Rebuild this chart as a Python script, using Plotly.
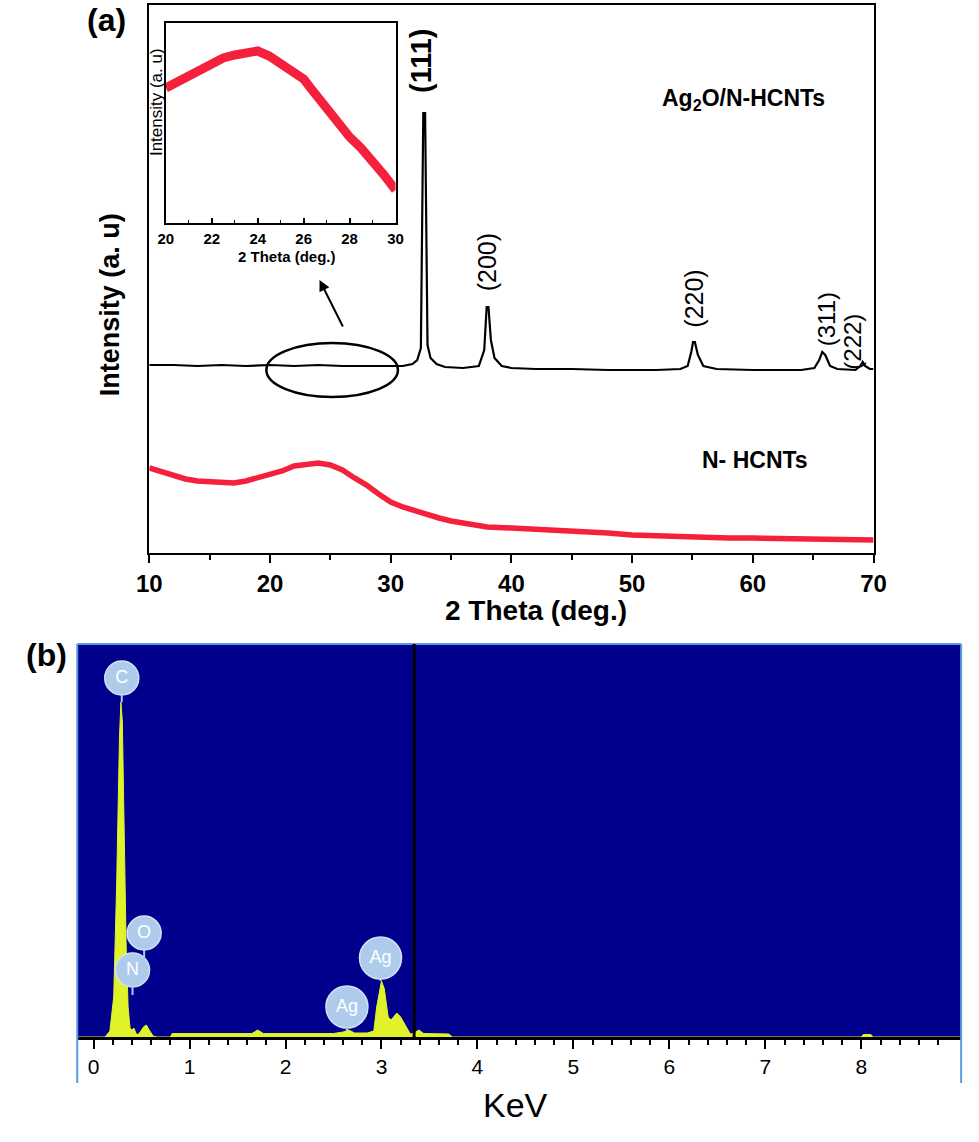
"""XRD of Ag2O/N-HCNTs vs N-HCNTs (a) and EDS spectrum (b)."""

import plotly.graph_objects as go

W, H = 979, 1142
FONT = "Arial, Liberation Sans, sans-serif"

# ---------------------------------------------------------------- (a) XRD data
ag_2theta = [10, 12, 14, 16, 18, 20, 22, 24, 26, 28,
             30, 31, 31.8, 32.2, 32.5, 32.62, 32.7, 32.85, 32.95, 33.05,
             33.3, 33.8, 34.5, 36, 37.3, 37.75, 37.95, 38.1, 38.3, 38.6,
             39.2, 40, 42, 45, 48, 50, 52, 54, 54.6, 54.9,
             55.05, 55.2, 55.45, 55.9, 57, 60, 62, 64, 65.1, 65.5,
             65.75, 66.0, 66.4, 67, 68.5, 68.9, 69.1, 69.3, 69.7, 70]
ag_intensity = [188, 188, 187, 188, 187, 188, 187, 188, 187, 187,
                187, 187, 189, 193, 205, 320, 440, 440, 313, 208,
                195, 189, 186, 185, 187, 203, 246, 246, 213, 195,
                187, 185, 184, 184, 183, 183, 183, 184, 187, 201,
                211, 211, 198, 187, 184, 183, 183, 183, 185, 193,
                201, 198, 187, 184, 183, 187, 191, 187, 184, 184]

n_2theta = [10, 11, 12, 13, 14, 15, 16, 17, 18, 19, 20, 21, 22, 23, 24, 25,
            26, 27, 28, 29, 30, 31, 32, 33, 34, 35, 36, 37, 38, 40, 42, 44,
            46, 48, 50, 52, 55, 58, 60, 63, 66, 70]
n_intensity = [85, 81, 77, 74, 72, 71, 70, 70, 72, 75, 78, 82, 87, 89, 90, 88,
               83, 75, 68, 59, 51, 46, 42, 39, 35, 32, 30, 28, 26, 25, 24, 23,
               22, 20, 18, 17, 16, 15, 15, 14, 13, 13]

inset_2theta = [20, 20.5, 21, 21.5, 22, 22.5, 23, 23.5, 24, 24.5, 25,
                25.5, 26, 26.3, 26.6, 27, 27.5, 28, 28.5, 29, 29.5, 30]
inset_intensity = [135, 141, 148, 153, 160, 165, 168, 171, 172, 167, 159,
                   153, 144, 135, 126, 116, 101, 86, 75, 63, 48, 33]

hkl_labels = ["(111)", "(200)", "(220)", "(311)", "(222)"]
hkl_2theta = [32.8, 38.0, 55.1, 65.75, 69.1]
hkl_peak = [440, 246, 211, 201, 191]

# ---------------------------------------------------------------- (b) EDS data
eds_kev = [-0.17, 0.12, 0.17, 0.21, 0.24, 0.27, 0.285, 0.30, 0.32, 0.34,
           0.36, 0.38, 0.40, 0.42, 0.45, 0.48, 0.52, 0.55, 0.58, 0.62,
           0.66, 0.80, 0.82, 1.0, 1.65, 1.71, 1.77, 2.5, 2.6, 2.66,
           2.72, 2.85, 2.92, 2.95, 3.0, 3.03, 3.07, 3.1, 3.16, 3.2,
           3.26, 3.3, 3.34, 3.39, 3.44, 3.7, 3.74, 8.0, 8.02, 8.1,
           8.12, 9.04]
eds_counts = [0, 0, 60, 400, 1500, 3000, 3350, 3150, 2000, 900,
              300, 90, 70, 90, 20, 40, 100, 120, 70, 10,
              0, 0, 35, 35, 35, 70, 35, 35, 50, 70,
              40, 40, 60, 300, 560, 480, 200, 170, 240, 200,
              90, 30, 40, 70, 35, 30, 0, 0, 25, 25,
              0, 0]

element_labels = ["C", "N", "O", "Ag", "Ag"]
element_kev = [0.294, 0.406, 0.527, 2.64, 2.99]


def px(x):
    return x / W


def py(y):
    return 1 - y / H


fig = go.Figure()

# (a) main traces
fig.add_scatter(x=n_2theta, y=n_intensity, mode="lines",
                line=dict(color="#f5203c", width=5.5), xaxis="x", yaxis="y")
fig.add_scatter(x=ag_2theta, y=ag_intensity, mode="lines",
                line=dict(color="black", width=2.2), xaxis="x", yaxis="y")
# inset
fig.add_scatter(x=inset_2theta, y=inset_intensity, mode="lines",
                line=dict(color="#f5203c", width=9), xaxis="x2", yaxis="y2")
# (b) EDS spectrum
fig.add_scatter(x=eds_kev, y=eds_counts, mode="lines", fill="tozeroy",
                fillcolor="#e0f22a", line=dict(color="#e0f22a", width=1),
                xaxis="x3", yaxis="y3")

# element badges (positions in keV / counts)
badge_y = [3590, 670, 1040, 300, 790]
badge_size = [34, 34, 34, 42, 42]
fig.add_scatter(
    x=element_kev, y=badge_y, mode="markers+text", text=element_labels,
    textposition="middle center",
    textfont=dict(family=FONT, size=18, color="white"),
    marker=dict(size=badge_size, color="#aecbec", opacity=1,
                line=dict(color="#d0e2f5", width=1.5)),
    xaxis="x3", yaxis="y3",
)
stems = [(0.294, 3420, 3350), (0.406, 510, 420), (0.527, 870, 770),
         (2.64, 100, 60), (2.99, 580, 560)]
for sx, sy0, sy1 in stems:
    fig.add_shape(type="line", xref="x3", yref="y3", x0=sx, x1=sx, y0=sy0, y1=sy1,
                  line=dict(color="#aecbec", width=2))

# ---------------------------------------------------------------- axes
common = dict(showgrid=False, zeroline=False)
fig.update_layout(
    width=W, height=H, autosize=False,
    margin=dict(l=0, r=0, t=0, b=0),
    paper_bgcolor="white", plot_bgcolor="white",
    showlegend=False, hovermode=False,
    font=dict(family=FONT, color="black"),
    xaxis=dict(domain=[px(140), px(884)], range=[10, 70], anchor="y",
               showline=True, mirror=True, linecolor="black", linewidth=2,
               ticks="outside", ticklen=8, tickwidth=2, tickcolor="black",
               tickvals=[10, 20, 30, 40, 50, 60, 70],
               ticktext=[f"<b>{v}</b>" for v in [10, 20, 30, 40, 50, 60, 70]],
               tickfont=dict(size=24),
               minor=dict(dtick=5, ticks="outside", ticklen=5, tickwidth=2,
                          tickcolor="black"),
               **common),
    yaxis=dict(domain=[py(553), py(5)], range=[0, 548], anchor="x",
               showline=True, mirror=True, linecolor="black", linewidth=2,
               showticklabels=False, ticks="", **common),
    xaxis2=dict(domain=[px(157), px(393)], range=[20, 30], anchor="y2",
                showline=True, mirror=True, linecolor="black", linewidth=1.5,
                ticks="inside", ticklen=5, tickwidth=1.5, tickcolor="black",
                tickvals=[20, 22, 24, 26, 28, 30],
                ticktext=[f"<b>{v}</b>" for v in [20, 22, 24, 26, 28, 30]],
                tickfont=dict(size=15), ticklabelstandoff=1,
                minor=dict(dtick=1, ticks="inside", ticklen=3, tickwidth=1,
                           tickcolor="black"),
                **common),
    yaxis2=dict(domain=[py(223), py(23)], range=[0, 200], anchor="x2",
                showline=True, mirror=True, linecolor="black", linewidth=1.5,
                showticklabels=False, ticks="", **common),
    xaxis3=dict(domain=[px(66), px(974)], range=[-0.17, 9.04], anchor="y3",
                showline=True, linecolor="black", linewidth=3,
                ticks="outside", ticklen=9, tickwidth=2, tickcolor="black",
                tickvals=list(range(9)), tickfont=dict(size=21),
                ticklabelstandoff=0,
                minor=dict(tickvals=[i / 5 for i in range(45) if i % 5],
                           ticks="outside", ticklen=5, tickwidth=2,
                           tickcolor="black"),
                **common),
    yaxis3=dict(domain=[py(1037), py(644)], range=[0, 3930], anchor="x3",
                showline=False, showticklabels=False, ticks="", **common),
)

# EDS navy panel, frame and marker line
fig.add_shape(type="rect", xref="x3 domain", yref="y3 domain", x0=0, x1=1, y0=0, y1=1,
              fillcolor="#00008c", line=dict(width=0), layer="below")
for x0, y0, x1, y1 in [(66, 644, 974, 644), (66, 644, 66, 1083), (974, 644, 974, 1083)]:
    fig.add_shape(type="line", xref="paper", yref="paper",
                  x0=px(x0), y0=py(y0), x1=px(x1), y1=py(y1),
                  line=dict(color="#5a9ae0", width=2))
fig.add_shape(type="line", xref="x3", yref="y3 domain", x0=3.34, x1=3.34, y0=0, y1=1,
              line=dict(color="black", width=3))

# ellipse + arrow pointing to the inset
fig.add_shape(type="circle", xref="x", yref="y", x0=19.7, x1=30.6, y0=156, y1=210,
              line=dict(color="black", width=2.5))
fig.add_annotation(x=24.1, y=273, ax=26.1, ay=225, xref="x", yref="y",
                   axref="x", ayref="y", text="", showarrow=True,
                   arrowhead=2, arrowsize=1.1, arrowwidth=2, arrowcolor="black")

# hkl labels
label_style = {
    "(111)": dict(size=29, bold=True, dx=-4, gap=18),
    "(200)": dict(size=25, bold=False, dx=0, gap=14),
    "(220)": dict(size=25, bold=False, dx=0, gap=12),
    "(311)": dict(size=24, bold=False, dx=4, gap=4),
    "(222)": dict(size=24, bold=False, dx=-11, gap=-10),
}
for lab, tx, ty in zip(hkl_labels, hkl_2theta, hkl_peak):
    st = label_style[lab]
    fig.add_annotation(x=tx, y=ty, xref="x", yref="y",
                       text=f"<b>{lab}</b>" if st["bold"] else lab,
                       textangle=-90, showarrow=False,
                       xanchor="center", yanchor="bottom",
                       xshift=st["dx"], yshift=st["gap"],
                       font=dict(size=st["size"], color="black"))

# free text (pixel centres)
texts = [
    ("<b>(a)</b>", 96, 20, 32, 0),
    ("<b>Intensity (a. u)</b>", 100, 305, 27, -90),
    ("<b>2 Theta (deg.)</b>", 537, 610, 28, 0),
    ("<b>Ag<sub>2</sub>O/N-HCNTs</b>", 750, 100, 23, 0),
    ("<b>N- HCNTs</b>", 762, 460, 23, 0),
    ("Intensity (a. u)", 148, 102, 17, -90),
    ("<b>2 Theta (deg.)</b>", 281, 256, 15, 0),
    ("<b>(b)</b>", 34, 655, 32, 0),
    ("KeV", 516, 1105, 34, 0),
]
for txt, x, y, size, ang in texts:
    fig.add_annotation(x=px(x), y=py(y), xref="paper", yref="paper", text=txt,
                       showarrow=False, textangle=ang,
                       xanchor="center", yanchor="middle",
                       font=dict(size=size, color="black"))

# the default page body margin would push the figure 8px off the canvas
fig.write_html("out.html", config={"displayModeBar": False},
               post_script="document.body.style.margin='0';"
                           "document.body.style.overflow='hidden';")
